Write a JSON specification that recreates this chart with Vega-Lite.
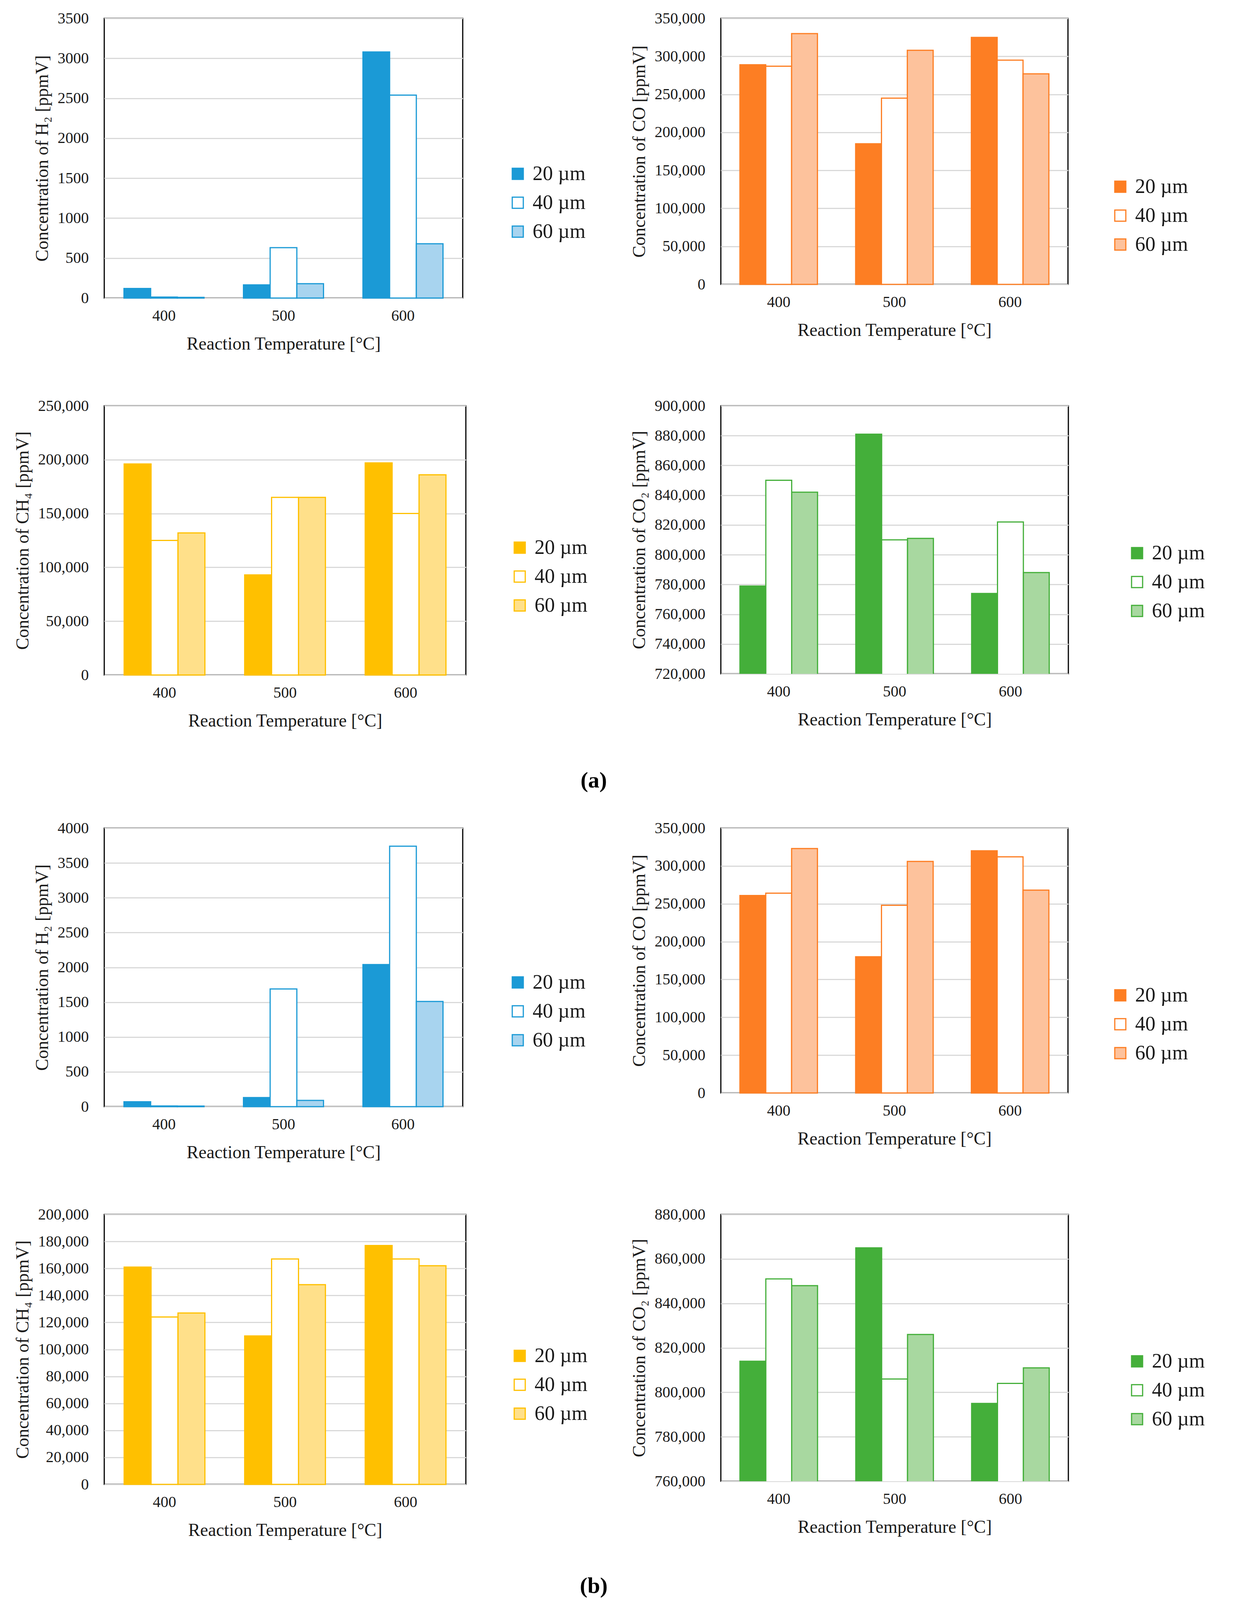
{
  "$schema": "https://vega.github.io/schema/vega-lite/v6.json",
  "background": "white",
  "padding": {"left": 33, "top": 25, "right": 10, "bottom": 5},
  "datasets": {
    "conc": [
      {"set": "a", "gas": "H2", "temp": 400, "size": "20 µm", "value": 120},
      {"set": "a", "gas": "H2", "temp": 400, "size": "40 µm", "value": 12},
      {"set": "a", "gas": "H2", "temp": 400, "size": "60 µm", "value": 8},
      {"set": "a", "gas": "H2", "temp": 500, "size": "20 µm", "value": 165},
      {"set": "a", "gas": "H2", "temp": 500, "size": "40 µm", "value": 630},
      {"set": "a", "gas": "H2", "temp": 500, "size": "60 µm", "value": 180},
      {"set": "a", "gas": "H2", "temp": 600, "size": "20 µm", "value": 3080},
      {"set": "a", "gas": "H2", "temp": 600, "size": "40 µm", "value": 2540},
      {"set": "a", "gas": "H2", "temp": 600, "size": "60 µm", "value": 680},
      {"set": "a", "gas": "CO", "temp": 400, "size": "20 µm", "value": 289000},
      {"set": "a", "gas": "CO", "temp": 400, "size": "40 µm", "value": 287000},
      {"set": "a", "gas": "CO", "temp": 400, "size": "60 µm", "value": 330000},
      {"set": "a", "gas": "CO", "temp": 500, "size": "20 µm", "value": 185000},
      {"set": "a", "gas": "CO", "temp": 500, "size": "40 µm", "value": 245000},
      {"set": "a", "gas": "CO", "temp": 500, "size": "60 µm", "value": 308000},
      {"set": "a", "gas": "CO", "temp": 600, "size": "20 µm", "value": 325000},
      {"set": "a", "gas": "CO", "temp": 600, "size": "40 µm", "value": 295000},
      {"set": "a", "gas": "CO", "temp": 600, "size": "60 µm", "value": 277000},
      {"set": "a", "gas": "CH4", "temp": 400, "size": "20 µm", "value": 196000},
      {"set": "a", "gas": "CH4", "temp": 400, "size": "40 µm", "value": 125000},
      {"set": "a", "gas": "CH4", "temp": 400, "size": "60 µm", "value": 132000},
      {"set": "a", "gas": "CH4", "temp": 500, "size": "20 µm", "value": 93000},
      {"set": "a", "gas": "CH4", "temp": 500, "size": "40 µm", "value": 165000},
      {"set": "a", "gas": "CH4", "temp": 500, "size": "60 µm", "value": 165000},
      {"set": "a", "gas": "CH4", "temp": 600, "size": "20 µm", "value": 197000},
      {"set": "a", "gas": "CH4", "temp": 600, "size": "40 µm", "value": 150000},
      {"set": "a", "gas": "CH4", "temp": 600, "size": "60 µm", "value": 186000},
      {"set": "a", "gas": "CO2", "temp": 400, "size": "20 µm", "value": 779000},
      {"set": "a", "gas": "CO2", "temp": 400, "size": "40 µm", "value": 850000},
      {"set": "a", "gas": "CO2", "temp": 400, "size": "60 µm", "value": 842000},
      {"set": "a", "gas": "CO2", "temp": 500, "size": "20 µm", "value": 881000},
      {"set": "a", "gas": "CO2", "temp": 500, "size": "40 µm", "value": 810000},
      {"set": "a", "gas": "CO2", "temp": 500, "size": "60 µm", "value": 811000},
      {"set": "a", "gas": "CO2", "temp": 600, "size": "20 µm", "value": 774000},
      {"set": "a", "gas": "CO2", "temp": 600, "size": "40 µm", "value": 822000},
      {"set": "a", "gas": "CO2", "temp": 600, "size": "60 µm", "value": 788000},
      {"set": "b", "gas": "H2", "temp": 400, "size": "20 µm", "value": 70},
      {"set": "b", "gas": "H2", "temp": 400, "size": "40 µm", "value": 10},
      {"set": "b", "gas": "H2", "temp": 400, "size": "60 µm", "value": 8},
      {"set": "b", "gas": "H2", "temp": 500, "size": "20 µm", "value": 130},
      {"set": "b", "gas": "H2", "temp": 500, "size": "40 µm", "value": 1690},
      {"set": "b", "gas": "H2", "temp": 500, "size": "60 µm", "value": 90},
      {"set": "b", "gas": "H2", "temp": 600, "size": "20 µm", "value": 2040},
      {"set": "b", "gas": "H2", "temp": 600, "size": "40 µm", "value": 3740},
      {"set": "b", "gas": "H2", "temp": 600, "size": "60 µm", "value": 1510},
      {"set": "b", "gas": "CO", "temp": 400, "size": "20 µm", "value": 261000},
      {"set": "b", "gas": "CO", "temp": 400, "size": "40 µm", "value": 264000},
      {"set": "b", "gas": "CO", "temp": 400, "size": "60 µm", "value": 323000},
      {"set": "b", "gas": "CO", "temp": 500, "size": "20 µm", "value": 180000},
      {"set": "b", "gas": "CO", "temp": 500, "size": "40 µm", "value": 248000},
      {"set": "b", "gas": "CO", "temp": 500, "size": "60 µm", "value": 306000},
      {"set": "b", "gas": "CO", "temp": 600, "size": "20 µm", "value": 320000},
      {"set": "b", "gas": "CO", "temp": 600, "size": "40 µm", "value": 312000},
      {"set": "b", "gas": "CO", "temp": 600, "size": "60 µm", "value": 268000},
      {"set": "b", "gas": "CH4", "temp": 400, "size": "20 µm", "value": 161000},
      {"set": "b", "gas": "CH4", "temp": 400, "size": "40 µm", "value": 124000},
      {"set": "b", "gas": "CH4", "temp": 400, "size": "60 µm", "value": 127000},
      {"set": "b", "gas": "CH4", "temp": 500, "size": "20 µm", "value": 110000},
      {"set": "b", "gas": "CH4", "temp": 500, "size": "40 µm", "value": 167000},
      {"set": "b", "gas": "CH4", "temp": 500, "size": "60 µm", "value": 148000},
      {"set": "b", "gas": "CH4", "temp": 600, "size": "20 µm", "value": 177000},
      {"set": "b", "gas": "CH4", "temp": 600, "size": "40 µm", "value": 167000},
      {"set": "b", "gas": "CH4", "temp": 600, "size": "60 µm", "value": 162000},
      {"set": "b", "gas": "CO2", "temp": 400, "size": "20 µm", "value": 814000},
      {"set": "b", "gas": "CO2", "temp": 400, "size": "40 µm", "value": 851000},
      {"set": "b", "gas": "CO2", "temp": 400, "size": "60 µm", "value": 848000},
      {"set": "b", "gas": "CO2", "temp": 500, "size": "20 µm", "value": 865000},
      {"set": "b", "gas": "CO2", "temp": 500, "size": "40 µm", "value": 806000},
      {"set": "b", "gas": "CO2", "temp": 500, "size": "60 µm", "value": 826000},
      {"set": "b", "gas": "CO2", "temp": 600, "size": "20 µm", "value": 795000},
      {"set": "b", "gas": "CO2", "temp": 600, "size": "40 µm", "value": 804000},
      {"set": "b", "gas": "CO2", "temp": 600, "size": "60 µm", "value": 811000}
    ]
  },
  "data": {"name": "conc"},
  "vconcat": [
    {
      "title": {"text": "(a)", "orient": "bottom", "anchor": "middle", "fontSize": 58, "fontWeight": "bold", "offset": 100, "dx": -40},
      "columns": 2,
      "spacing": {"row": 112, "column": 105},
      "resolve": {"scale": {"x": "independent", "y": "independent", "fill": "independent", "xOffset": "independent"}, "legend": {"fill": "independent"}},
      "concat": [
        {
          "width": 918, "height": 716,
          "transform": [{"filter": "datum.set == 'a' && datum.gas == 'H2'"}],
          "mark": {"type": "bar", "stroke": "#1B9AD6", "strokeWidth": 3},
          "encoding": {
            "x": {"field": "temp", "type": "ordinal", "title": "Reaction Temperature [°C]", "scale": {"paddingInner": 0.33, "paddingOuter": 0.165}},
            "xOffset": {"field": "size", "type": "nominal", "scale": {"paddingInner": 0, "paddingOuter": 0}},
            "y": {"field": "value", "type": "quantitative", "title": "Concentration of H₂ [ppmV]", "scale": {"domain": [0, 3500]}, "axis": {"values": [0, 500, 1000, 1500, 2000, 2500, 3000, 3500], "format": "d"}},
            "fill": {"field": "size", "type": "nominal", "scale": {"range": ["#1B9AD6", "#FFFFFF", "#A8D4EF"]}, "legend": {"title": null, "legendX": 1033, "legendY": 372, "symbolStrokeColor": "#1B9AD6"}}
          }
        },
        {
          "width": 889, "height": 681,
          "transform": [{"filter": "datum.set == 'a' && datum.gas == 'CO'"}],
          "mark": {"type": "bar", "stroke": "#FD7E23", "strokeWidth": 3},
          "encoding": {
            "x": {"field": "temp", "type": "ordinal", "title": "Reaction Temperature [°C]", "scale": {"paddingInner": 0.33, "paddingOuter": 0.165}},
            "xOffset": {"field": "size", "type": "nominal", "scale": {"paddingInner": 0, "paddingOuter": 0}},
            "y": {"field": "value", "type": "quantitative", "title": "Concentration of CO  [ppmV]", "scale": {"domain": [0, 350000]}, "axis": {"values": [0, 50000, 100000, 150000, 200000, 250000, 300000, 350000], "format": ",.0f"}},
            "fill": {"field": "size", "type": "nominal", "scale": {"range": ["#FD7E23", "#FFFFFF", "#FDC29C"]}, "legend": {"title": null, "legendX": 997, "legendY": 405, "symbolStrokeColor": "#FD7E23"}}
          }
        },
        {
          "width": 926, "height": 689,
          "transform": [{"filter": "datum.set == 'a' && datum.gas == 'CH4'"}],
          "mark": {"type": "bar", "stroke": "#FFC000", "strokeWidth": 3},
          "encoding": {
            "x": {"field": "temp", "type": "ordinal", "title": "Reaction Temperature [°C]", "scale": {"paddingInner": 0.33, "paddingOuter": 0.165}},
            "xOffset": {"field": "size", "type": "nominal", "scale": {"paddingInner": 0, "paddingOuter": 0}},
            "y": {"field": "value", "type": "quantitative", "title": "Concentration of CH₄  [ppmV]", "scale": {"domain": [0, 250000]}, "axis": {"values": [0, 50000, 100000, 150000, 200000, 250000], "format": ",.0f"}},
            "fill": {"field": "size", "type": "nominal", "scale": {"range": ["#FFC000", "#FFFFFF", "#FFE08A"]}, "legend": {"title": null, "legendX": 1038, "legendY": 337, "symbolStrokeColor": "#FFC000"}}
          }
        },
        {
          "width": 890, "height": 686,
          "transform": [{"filter": "datum.set == 'a' && datum.gas == 'CO2'"}],
          "mark": {"type": "bar", "stroke": "#44AF3A", "strokeWidth": 3, "clip": true},
          "encoding": {
            "x": {"field": "temp", "type": "ordinal", "title": "Reaction Temperature [°C]", "scale": {"paddingInner": 0.33, "paddingOuter": 0.165}},
            "xOffset": {"field": "size", "type": "nominal", "scale": {"paddingInner": 0, "paddingOuter": 0}},
            "y": {"field": "value", "type": "quantitative", "title": "Concentration of  CO₂ [ppmV]", "scale": {"domain": [720000, 900000], "zero": false}, "axis": {"values": [720000, 740000, 760000, 780000, 800000, 820000, 840000, 860000, 880000, 900000], "format": ",.0f"}},
            "fill": {"field": "size", "type": "nominal", "scale": {"range": ["#44AF3A", "#FFFFFF", "#A8D8A0"]}, "legend": {"title": null, "legendX": 1040, "legendY": 351, "symbolStrokeColor": "#44AF3A"}}
          }
        }
      ]
    },
    {
      "title": {"text": "(b)", "orient": "bottom", "anchor": "middle", "fontSize": 58, "fontWeight": "bold", "offset": 90, "dx": -40},
      "columns": 2,
      "spacing": {"row": 112, "column": 105},
      "resolve": {"scale": {"x": "independent", "y": "independent", "fill": "independent", "xOffset": "independent"}, "legend": {"fill": "independent"}},
      "concat": [
        {
          "width": 918, "height": 713,
          "transform": [{"filter": "datum.set == 'b' && datum.gas == 'H2'"}],
          "mark": {"type": "bar", "stroke": "#1B9AD6", "strokeWidth": 3},
          "encoding": {
            "x": {"field": "temp", "type": "ordinal", "title": "Reaction Temperature [°C]", "scale": {"paddingInner": 0.33, "paddingOuter": 0.165}},
            "xOffset": {"field": "size", "type": "nominal", "scale": {"paddingInner": 0, "paddingOuter": 0}},
            "y": {"field": "value", "type": "quantitative", "title": "Concentration of H₂ [ppmV]", "scale": {"domain": [0, 4000]}, "axis": {"values": [0, 500, 1000, 1500, 2000, 2500, 3000, 3500, 4000], "format": "d"}},
            "fill": {"field": "size", "type": "nominal", "scale": {"range": ["#1B9AD6", "#FFFFFF", "#A8D4EF"]}, "legend": {"title": null, "legendX": 1033, "legendY": 369, "symbolStrokeColor": "#1B9AD6"}}
          }
        },
        {
          "width": 889, "height": 678,
          "transform": [{"filter": "datum.set == 'b' && datum.gas == 'CO'"}],
          "mark": {"type": "bar", "stroke": "#FD7E23", "strokeWidth": 3},
          "encoding": {
            "x": {"field": "temp", "type": "ordinal", "title": "Reaction Temperature [°C]", "scale": {"paddingInner": 0.33, "paddingOuter": 0.165}},
            "xOffset": {"field": "size", "type": "nominal", "scale": {"paddingInner": 0, "paddingOuter": 0}},
            "y": {"field": "value", "type": "quantitative", "title": "Concentration of CO  [ppmV]", "scale": {"domain": [0, 350000]}, "axis": {"values": [0, 50000, 100000, 150000, 200000, 250000, 300000, 350000], "format": ",.0f"}},
            "fill": {"field": "size", "type": "nominal", "scale": {"range": ["#FD7E23", "#FFFFFF", "#FDC29C"]}, "legend": {"title": null, "legendX": 997, "legendY": 402, "symbolStrokeColor": "#FD7E23"}}
          }
        },
        {
          "width": 926, "height": 691,
          "transform": [{"filter": "datum.set == 'b' && datum.gas == 'CH4'"}],
          "mark": {"type": "bar", "stroke": "#FFC000", "strokeWidth": 3},
          "encoding": {
            "x": {"field": "temp", "type": "ordinal", "title": "Reaction Temperature [°C]", "scale": {"paddingInner": 0.33, "paddingOuter": 0.165}},
            "xOffset": {"field": "size", "type": "nominal", "scale": {"paddingInner": 0, "paddingOuter": 0}},
            "y": {"field": "value", "type": "quantitative", "title": "Concentration of CH₄  [ppmV]", "scale": {"domain": [0, 200000]}, "axis": {"values": [0, 20000, 40000, 60000, 80000, 100000, 120000, 140000, 160000, 180000, 200000], "format": ",.0f"}},
            "fill": {"field": "size", "type": "nominal", "scale": {"range": ["#FFC000", "#FFFFFF", "#FFE08A"]}, "legend": {"title": null, "legendX": 1038, "legendY": 336, "symbolStrokeColor": "#FFC000"}}
          }
        },
        {
          "width": 890, "height": 683,
          "transform": [{"filter": "datum.set == 'b' && datum.gas == 'CO2'"}],
          "mark": {"type": "bar", "stroke": "#44AF3A", "strokeWidth": 3, "clip": true},
          "encoding": {
            "x": {"field": "temp", "type": "ordinal", "title": "Reaction Temperature [°C]", "scale": {"paddingInner": 0.33, "paddingOuter": 0.165}},
            "xOffset": {"field": "size", "type": "nominal", "scale": {"paddingInner": 0, "paddingOuter": 0}},
            "y": {"field": "value", "type": "quantitative", "title": "Concentration of  CO₂ [ppmV]", "scale": {"domain": [760000, 880000], "zero": false}, "axis": {"values": [760000, 780000, 800000, 820000, 840000, 860000, 880000], "format": ",.0f"}},
            "fill": {"field": "size", "type": "nominal", "scale": {"range": ["#44AF3A", "#FFFFFF", "#A8D8A0"]}, "legend": {"title": null, "legendX": 1040, "legendY": 350, "symbolStrokeColor": "#44AF3A"}}
          }
        }
      ]
    }
  ],
  "spacing": 70,
  "config": {
    "font": "Liberation Serif",
    "view": {"stroke": "#000000", "strokeWidth": 3},
    "title": {"font": "Liberation Serif", "color": "#000000"},
    "axis": {
      "labelFont": "Liberation Serif",
      "titleFont": "Liberation Serif",
      "labelFontSize": 40,
      "titleFontSize": 46,
      "titleFontWeight": "normal",
      "labelColor": "#1a1a1a",
      "titleColor": "#1a1a1a",
      "domain": false,
      "ticks": false
    },
    "axisX": {"grid": false, "labelAngle": 0, "labelPadding": 25, "titlePadding": 30},
    "axisY": {"gridColor": "#D9D9D9", "gridWidth": 3, "labelPadding": 40, "titlePadding": 15},
    "legend": {
      "orient": "none",
      "labelFont": "Liberation Serif",
      "labelFontSize": 52,
      "labelColor": "#1a1a1a",
      "labelOffset": 12,
      "symbolType": "square",
      "symbolSize": 800,
      "symbolStrokeWidth": 3,
      "rowPadding": 22,
      "padding": 0
    }
  }
}
